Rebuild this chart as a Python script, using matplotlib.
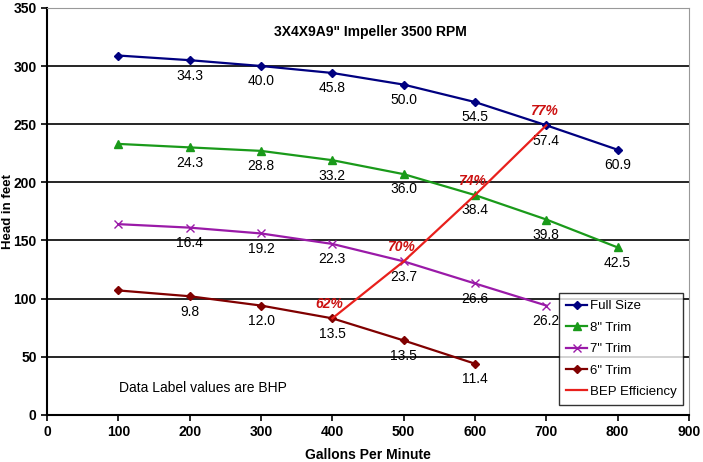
import matplotlib
matplotlib.use("Agg")
import matplotlib.pyplot as plt

plt.rcParams['font.family'] = ['Liberation Sans', 'DejaVu Sans']

gpm = [100, 200, 300, 400, 500, 600, 700, 800]
full_size = [309, 305, 300, 294, 284, 269, 249, 228]
full_bhp = [None, "34.3", "40.0", "45.8", "50.0", "54.5", "57.4", "60.9"]
trim8 = [233, 230, 227, 219, 207, 189, 168, 144]
trim8_bhp = [None, "24.3", "28.8", "33.2", "36.0", "38.4", "39.8", "42.5"]
gpm7 = [100, 200, 300, 400, 500, 600, 700]
trim7 = [164, 161, 156, 147, 132, 113, 94]
trim7_bhp = [None, "16.4", "19.2", "22.3", "23.7", "26.6", "26.2"]
gpm6 = [100, 200, 300, 400, 500, 600]
trim6 = [107, 102, 94, 83, 64, 44]
trim6_bhp = [None, "9.8", "12.0", "13.5", "13.5", "11.4"]
bep_gpm = [400, 500, 600, 700]
bep_head = [83, 132, 189, 249]
bep_labels = ["62%", "70%", "74%", "77%"]

fig = plt.figure(figsize=(7.03, 4.62), dpi=100)
ax = fig.add_axes([0.067, 0.102, 0.913, 0.881])

series = [
    (gpm, full_size, full_bhp, "#000080", "D", 4, "Full Size"),
    (gpm, trim8, trim8_bhp, "#1a9a1a", "^", 6, '8" Trim'),
    (gpm7, trim7, trim7_bhp, "#9a1aa8", "x", 6, '7" Trim'),
    (gpm6, trim6, trim6_bhp, "#800000", "D", 4, '6" Trim'),
]
for xs, ys, labs, col, mk, ms, name in series:
    ax.plot(xs, ys, color=col, marker=mk, markersize=ms, lw=1.6, label=name, zorder=3)
    for x, y, l in zip(xs, ys, labs):
        if l:
            ax.annotate(l, (x, y), xytext=(0, -6), textcoords="offset points",
                        ha="center", va="top", fontsize=10, color="black")

ax.plot(bep_gpm, bep_head, color="#e8201c", lw=1.6, label="BEP Efficiency", zorder=4)
for x, y, l in zip(bep_gpm, bep_head, bep_labels):
    ax.annotate(l, (x, y), xytext=(-2, 5), textcoords="offset points",
                ha="center", va="bottom", fontsize=10, color="#cc1111",
                fontweight="bold", fontstyle="italic")

ax.set_xlim(0, 900)
ax.set_ylim(0, 350)
ax.set_xticks(range(0, 901, 100))
ax.set_yticks(range(0, 351, 50))
ax.yaxis.grid(True, color="black", lw=1.2)
ax.set_axisbelow(True)
for lab in ax.get_xticklabels() + ax.get_yticklabels():
    lab.set_fontweight("bold")
ax.tick_params(labelsize=10, direction="out", length=4, width=1.2)
ax.spines["left"].set_linewidth(1.5)
ax.spines["bottom"].set_linewidth(1.5)
ax.spines["top"].set_color("#999999")
ax.spines["right"].set_color("#999999")
ax.set_xlabel("Gallons Per Minute", fontsize=10, fontweight="bold", labelpad=6)
ax.set_ylabel("Head in feet", fontsize=9.5, fontweight="bold")
ax.yaxis.set_label_coords(-0.051, 0.5)

ax.text(453, 329, '3X4X9A9" Impeller 3500 RPM', ha="center", va="center",
        fontsize=10, fontweight="bold")
ax.text(219, 23, "Data Label values are BHP", ha="center", va="center", fontsize=10)

leg = ax.legend(loc="lower right", bbox_to_anchor=(0.991, 0.025), fontsize=9.5,
                frameon=True, fancybox=False, edgecolor="black", handlelength=1.6,
                handletextpad=0.2, borderpad=0.5, labelspacing=0.7,
                borderaxespad=0)
leg.get_frame().set_linewidth(1.0)

fig.savefig("out.png", dpi=100)
